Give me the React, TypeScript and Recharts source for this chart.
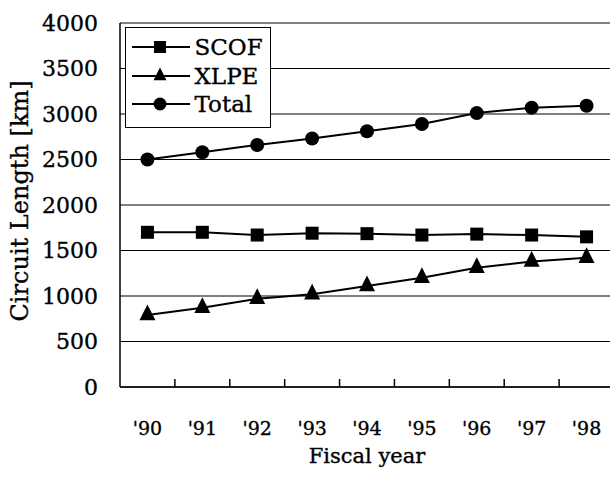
import React from 'react';
import { LineChart, Line, XAxis, YAxis, CartesianGrid, Legend } from 'recharts';

const years = ["'90", "'91", "'92", "'93", "'94", "'95", "'96", "'97", "'98"];
const scof = [1700, 1700, 1670, 1690, 1685, 1670, 1680, 1670, 1650];
const xlpe = [790, 870, 970, 1020, 1110, 1200, 1310, 1380, 1420];
const total = [2500, 2580, 2660, 2730, 2810, 2890, 3010, 3070, 3090];
const yTicks = [0, 500, 1000, 1500, 2000, 2500, 3000, 3500, 4000];
const seriesNames = ['SCOF', 'XLPE', 'Total'];

const data = years.map((year, i) => ({ year, SCOF: scof[i], XLPE: xlpe[i], Total: total[i] }));

const CHART_W = 616;
const CHART_H = 488;
const margin = { top: 23, right: 2, bottom: 0, left: 0 };
const Y_AXIS_W = 120;
const X_AXIS_H = 101;
const plotW = CHART_W - margin.left - margin.right - Y_AXIS_W;
const band = plotW / years.length;

const FONT = '"DejaVu Serif", serif';
// scanned print looks heavier than the screen font
const TEXT_STROKE = { stroke: '#000', strokeWidth: 0.35 };

type Shape = 'square' | 'triangle' | 'circle';
const shapeOf: Record<string, Shape> = { SCOF: 'square', XLPE: 'triangle', Total: 'circle' };

const marker = (shape: Shape, cx: number, cy: number, s: number, key?: string) => {
  if (shape === 'square') {
    return <rect key={key} x={cx - s / 2} y={cy - s / 2} width={s} height={s} fill="#000" />;
  }
  if (shape === 'circle') {
    return <circle key={key} cx={cx} cy={cy} r={s / 2 + 0.5} fill="#000" />;
  }
  // triangle, centred on its centroid
  const h = s * 1.05;
  const pts = `${cx},${cy - (2 * h) / 3} ${cx + s / 2 + 0.5},${cy + h / 3} ${cx - s / 2 - 0.5},${cy + h / 3}`;
  return <polygon key={key} points={pts} fill="#000" />;
};

const makeDot = (shape: Shape) => (props: any) => {
  const { cx, cy, index } = props;
  if (cx == null || cy == null) return <g key={`${shape}-${index}`} />;
  return marker(shape, cx, cy, shape === 'triangle' ? 15 : 13, `${shape}-${index}`);
};

const YearTick = ({ x, y, payload, index }: any) => (
  <g>
    {index > 0 && (
      <line x1={x - band / 2} x2={x - band / 2} y1={y} y2={y - 8} stroke="#000" strokeWidth={1.5} />
    )}
    <text x={x} y={y + 48} textAnchor="middle" fontFamily={FONT} fontSize={19} fill="#000" {...TEXT_STROKE}>
      {payload.value}
    </text>
  </g>
);

const YTitle = ({ viewBox }: any) => {
  const x = 28;
  const y = viewBox.y + viewBox.height / 2 - 4;
  return (
    <text x={x} y={y} transform={`rotate(-90, ${x}, ${y})`} textAnchor="middle" fontFamily={FONT} fontSize={24} fill="#000" {...TEXT_STROKE}>
      Circuit Length [km]
    </text>
  );
};

const XTitle = ({ viewBox }: any) => (
  <text x={viewBox.x + viewBox.width / 2} y={viewBox.y + 76} textAnchor="middle" fontFamily={FONT} fontSize={21} fill="#000" {...TEXT_STROKE}>
    Fiscal year
  </text>
);

const LegendBox = ({ payload }: any) => {
  const items = [...(payload || [])].sort(
    (a: any, b: any) => seriesNames.indexOf(a.value) - seriesNames.indexOf(b.value)
  );
  return (
    <div style={{ border: '1.5px solid #000', background: '#fff', padding: '5px 0 8px', boxSizing: 'border-box', width: 146 }}>
      {items.map((entry: any) => (
        <div key={entry.value} style={{ display: 'flex', alignItems: 'center', height: 28.5 }}>
          <svg width={58} height={18} style={{ marginLeft: 5.5, display: 'block' }}>
            <line x1={0} x2={58} y1={9} y2={9} stroke="#000" strokeWidth={2} />
            {marker(shapeOf[entry.value], 28, 9, 12)}
          </svg>
          <span
            style={{
              marginLeft: 5,
              fontFamily: FONT,
              fontSize: 23,
              lineHeight: '28px',
              color: '#000',
              WebkitTextStroke: '0.35px #000',
            }}
          >
            {entry.value}
          </span>
        </div>
      ))}
    </div>
  );
};

export default function App() {
  return (
    <div style={{ position: 'absolute', left: 0, top: 0, width: 610, height: 488, overflow: 'hidden', background: '#fff' }}>
      <LineChart width={CHART_W} height={CHART_H} data={data} margin={margin}>
        <CartesianGrid vertical={false} stroke="#000" strokeWidth={1} />
        <XAxis
          dataKey="year"
          height={X_AXIS_H}
          padding={{ left: band / 2, right: band / 2 }}
          interval={0}
          tickLine={false}
          tickSize={0}
          tickMargin={0}
          tick={<YearTick />}
          axisLine={{ stroke: '#000', strokeWidth: 1.5 }}
          label={<XTitle />}
        />
        <YAxis
          width={Y_AXIS_W}
          domain={[0, 4000]}
          ticks={yTicks}
          interval={0}
          tickLine={false}
          tickSize={0}
          tickMargin={22}
          tick={{ fontFamily: FONT, fontSize: 22, fill: '#000', ...TEXT_STROKE }}
          axisLine={{ stroke: '#000', strokeWidth: 1.5 }}
          label={<YTitle />}
        />
        <Legend
          layout="vertical"
          verticalAlign="middle"
          align="center"
          content={<LegendBox />}
          wrapperStyle={{ left: 125, top: 27, width: 146, height: 'auto' }}
        />
        <Line type="linear" dataKey="SCOF" stroke="#000" strokeWidth={2} dot={makeDot('square')} activeDot={false} isAnimationActive={false} />
        <Line type="linear" dataKey="XLPE" stroke="#000" strokeWidth={2} dot={makeDot('triangle')} activeDot={false} isAnimationActive={false} />
        <Line type="linear" dataKey="Total" stroke="#000" strokeWidth={2} dot={makeDot('circle')} activeDot={false} isAnimationActive={false} />
      </LineChart>
    </div>
  );
}
